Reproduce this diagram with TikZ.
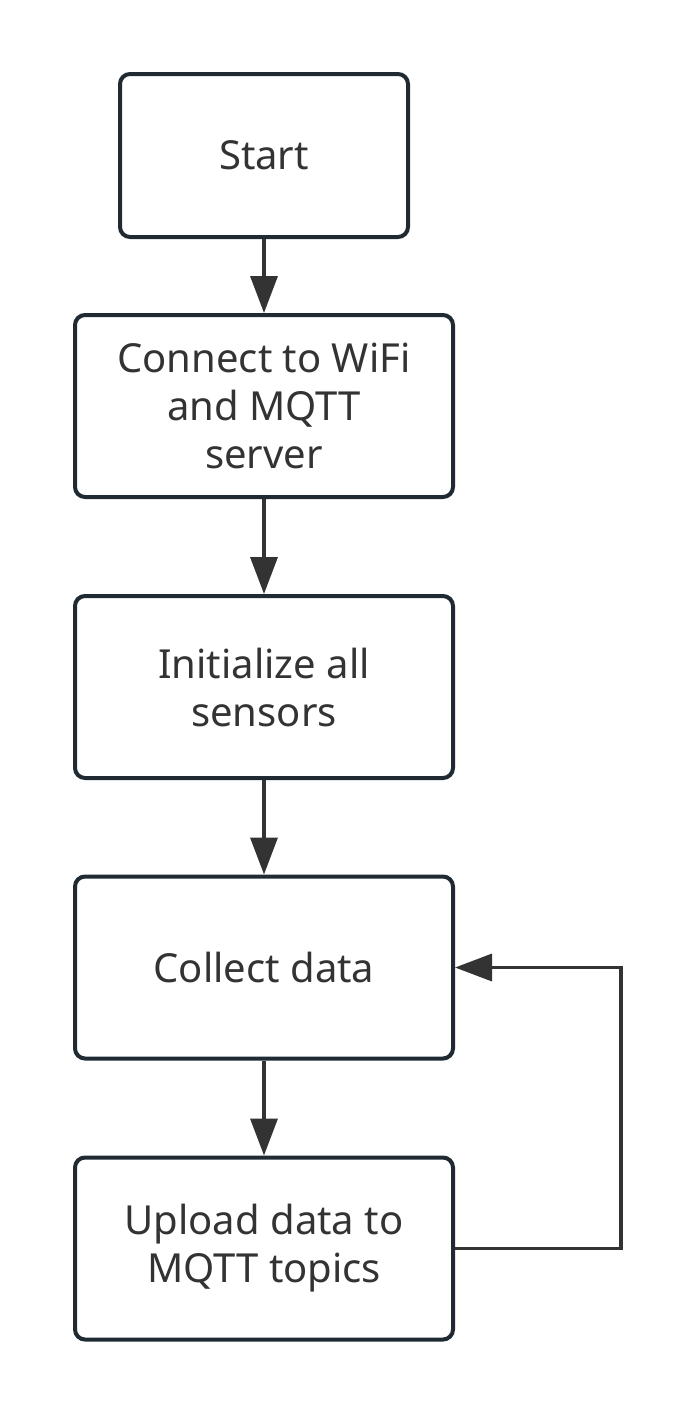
\documentclass[tikz,border=0pt]{standalone}
\usepackage{fontspec}
\setmainfont{Noto Sans}
\usetikzlibrary{arrows.meta}
\definecolor{boxline}{HTML}{1F2A33}
\definecolor{arr}{HTML}{333333}
\definecolor{txt}{HTML}{333333}
\begin{document}
\begin{tikzpicture}[x=1pt,y=-1pt,
  box/.style={draw=boxline,line width=4pt,rounded corners=10pt,fill=white,
    align=center,text=txt,font=\fontsize{40}{48}\selectfont,
    minimum width=378pt,minimum height=182pt,inner sep=0pt},
  conn/.style={draw=arr,line width=3.5pt,-{Triangle[length=37pt,width=27pt]}}]
\useasboundingbox (0,0) rectangle (696,1414);
\node[box,minimum width=288pt,minimum height=163pt] (start) at (264,155.5) {Start};
\node[box] (wifi) at (264,406) {Connect to WiFi\\and MQTT\\server};
\node[box] (init) at (264,687) {Initialize all\\sensors};
\node[box] (coll) at (264,967.5) {Collect data};
\node[box] (up) at (264,1248.5) {Upload data to\\MQTT topics};
\coordinate (r1) at (621,1248.5);
\coordinate (r2) at (621,967.5);
\draw[conn] (start) -- (wifi);
\draw[conn] (wifi) -- (init);
\draw[conn] (init) -- (coll);
\draw[conn] (coll) -- (up);
\draw[conn] (up.east) -- (r1) -- (r2) -- (coll.east);
\end{tikzpicture}
\end{document}
